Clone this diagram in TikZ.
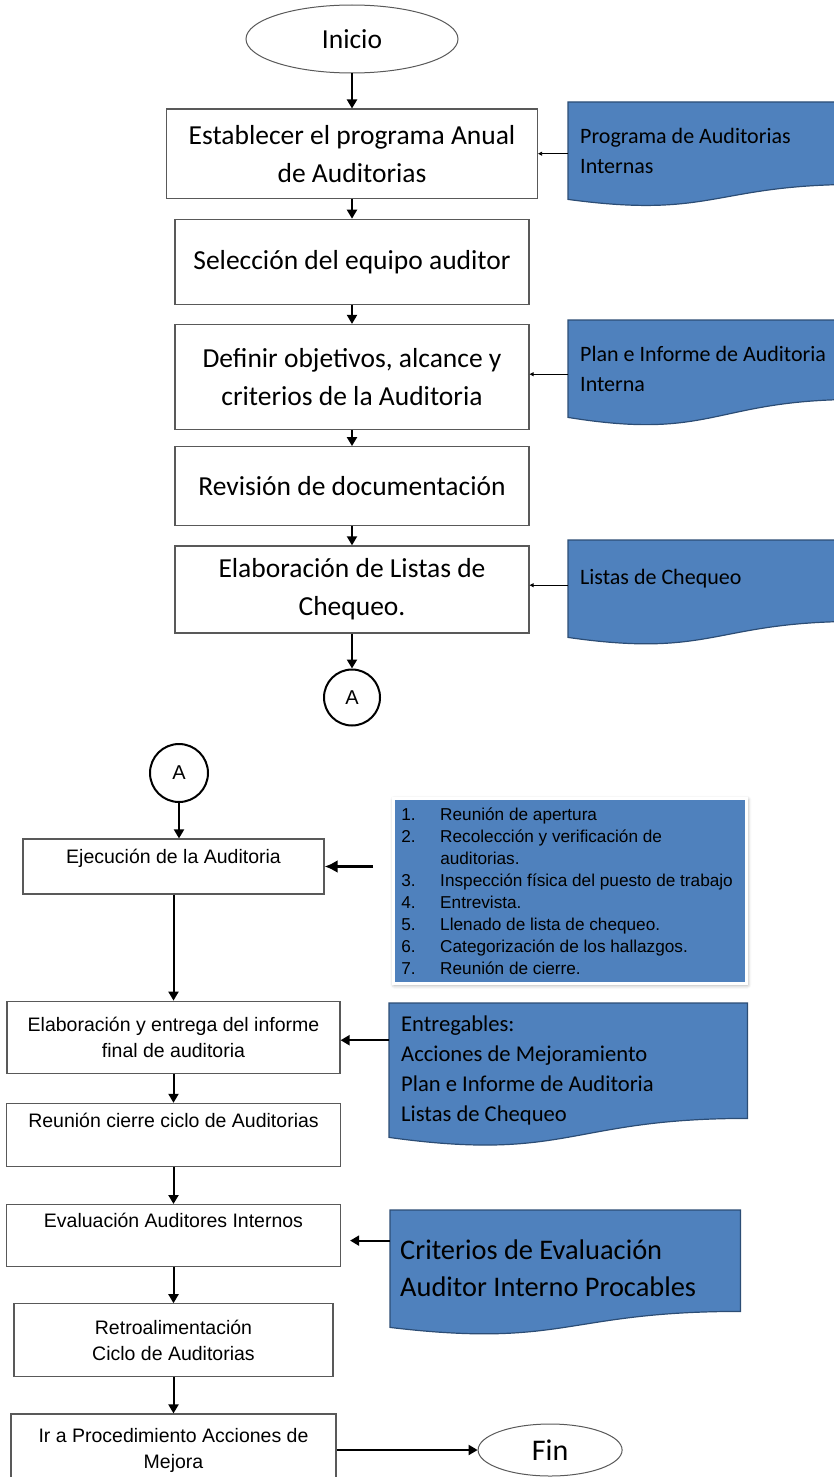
\documentclass[tikz,border=0pt]{standalone}
\usepackage{fontspec}
\setmainfont{Carlito}
\newfontfamily\arialfont{Liberation Sans}
\usetikzlibrary{shapes.geometric, arrows.meta, positioning, backgrounds, calc, shadows.blur}

\definecolor{docblue}{HTML}{4F81BD}
\definecolor{docline}{HTML}{2C4D75}
\definecolor{boxline}{HTML}{595959}

\tikzset{
  stepbox/.style ={draw=boxline, line width=1.2pt, fill=white, align=center,
                   inner sep=0pt, font=\fontsize{27.5}{38}\selectfont},
  subbox/.style  ={draw=boxline, line width=1.2pt, fill=white, align=center,
                   inner sep=0pt, font=\arialfont\fontsize{19.5}{26}\selectfont},
  term/.style    ={ellipse, draw=boxline, line width=1pt, fill=white,
                   inner sep=0pt, font=\fontsize{27.5}{33}\selectfont},
  conn/.style    ={circle, draw=black, line width=2pt, fill=white, inner sep=0pt,
                   font=\arialfont\fontsize{20}{24}\selectfont},
  docnode/.style ={anchor=north west, inner xsep=12pt, inner ysep=0pt,
                   align=flush left, font=\fontsize{22}{30}\selectfont},
  listbox/.style ={anchor=north west, fill=docblue, draw=white, line width=2.5pt,
                   blur shadow={shadow xshift=1pt, shadow yshift=-1.5pt,
                   shadow blur radius=4pt, shadow opacity=45},
                   inner xsep=8pt, inner ysep=0pt, align=flush left,
                   font=\arialfont\fontsize{17.2}{22}\selectfont},
  flow/.style    ={-{Triangle[length=9pt,width=10pt]}, line width=2pt},
  flowb/.style   ={-{Latex[length=13pt,width=13pt]}, line width=3pt},
  feed/.style    ={-{Triangle[length=4pt,width=4pt]}, line width=0.8pt}
}

% blue sheet with a wavy lower edge, drawn behind node #1 (#2 = wave height)
\newcommand{\wavedoc}[2]{%
  \begin{scope}[on background layer]
    \filldraw[fill=docblue, draw=docline, line width=1.2pt]
      (#1.north west) -- (#1.north east) -- ([yshift=#2]#1.south east)
      .. controls ([yshift=#2]#1.south) and ([yshift=-1.31*#2]#1.south)
      .. (#1.south west) -- cycle;
  \end{scope}}

\begin{document}
\begin{tikzpicture}[x=1pt, y=-1pt]
  \useasboundingbox (0,0) rectangle (834,1477);

  % task list of the audit (shadowed box first)
  \node[listbox, minimum width=353pt, minimum height=185pt, text width=337pt] (tareas)
    at (392,797) {%
    \makebox[39pt][l]{1.}Reunión de apertura\\
    \makebox[39pt][l]{2.}Recolección y verificación de\\
    \hspace*{39pt}auditorias.\\
    \makebox[39pt][l]{3.}Inspección física del puesto de trabajo\\
    \makebox[39pt][l]{4.}Entrevista.\\
    \makebox[39pt][l]{5.}Llenado de lista de chequeo.\\
    \makebox[39pt][l]{6.}Categorización de los hallazgos.\\
    \makebox[39pt][l]{7.}Reunión de cierre.};

  % first page of the procedure
  \node[term, minimum width=212pt, minimum height=68pt] (inicio) at (352,39) {Inicio};
  \node[stepbox, below=35pt of inicio, minimum width=371pt, minimum height=89pt] (estab)
    {Establecer el programa Anual\\de Auditorias};
  \node[stepbox, below=20pt of estab, minimum width=354pt, minimum height=85pt] (sel)
    {Selección del equipo auditor};
  \node[stepbox, below=19pt of sel, minimum width=354pt, minimum height=105pt] (defin)
    {Definir objetivos, alcance y\\criterios de la Auditoria};
  \node[stepbox, below=16pt of defin, minimum width=354pt, minimum height=79pt] (rev)
    {Revisión de documentación};
  \node[stepbox, below=19pt of rev, minimum width=354pt, minimum height=87pt] (elab)
    {Elaboración de Listas de\\Chequeo.};
  \node[conn, below=35pt of elab, minimum size=56pt] (conA) {A};

  \node[docnode, minimum width=290pt, minimum height=97pt, text width=266pt] (progdoc)
    at (568,102) {Programa de Auditorias\\Internas};
  \node[docnode, minimum width=290pt, minimum height=97pt, text width=266pt] (plandoc)
    at (568,320) {Plan e Informe de Auditoria\\Interna};
  \node[docnode, minimum width=290pt, minimum height=97pt, text width=266pt,
        text height=16pt, text depth=25pt] (listdoc)
    at (568,540) {Listas de Chequeo};
  \wavedoc{progdoc}{15pt}
  \wavedoc{plandoc}{18pt}
  \wavedoc{listdoc}{16pt}

  \draw[flow] (inicio) -- (estab);
  \draw[flow] (estab) -- (sel);
  \draw[flow] (sel) -- (defin);
  \draw[flow] (defin) -- (rev);
  \draw[flow] (rev) -- (elab);
  \draw[flow] (elab) -- (conA);
  \draw[feed] ([yshift=-3pt]progdoc.west) -- ([yshift=-3pt]progdoc.west -| estab.east);
  \draw[feed] ([yshift=-5.5pt]plandoc.west) -- ([yshift=-5.5pt]plandoc.west -| defin.east);
  \draw[feed] ([yshift=3.5pt]listdoc.west) -- ([yshift=3.5pt]listdoc.west -| elab.east);

  % continuation
  \node[conn, minimum size=58pt] (conB) at (179,773) {A};
  \node[subbox, minimum width=301pt, minimum height=55pt,
        text height=24pt, text depth=31pt] (ejec) at (173.5,866.5)
    {Ejecución de la Auditoria};
  \node[subbox, below=106pt of ejec, minimum width=333pt, minimum height=72pt] (entrega)
    {Elaboración y entrega del informe\\final de auditoria};
  \node[subbox, below=29pt of entrega, minimum width=334pt, minimum height=63pt,
        text height=24pt, text depth=39pt] (reunion)
    {Reunión cierre ciclo de Auditorias};
  \node[subbox, below=37pt of reunion, minimum width=334pt, minimum height=62pt,
        text height=23pt, text depth=39pt] (evalu)
    {Evaluación Auditores Internos};
  \node[subbox, below=36pt of evalu, minimum width=319pt, minimum height=73pt] (retro)
    {Retroalimentación\\Ciclo de Auditorias};
  \node[subbox, below=36pt of retro, minimum width=325pt, minimum height=72pt] (ira)
    {Ir a Procedimiento Acciones de\\Mejora};
  \node[term, right=141pt of ira, minimum width=144pt, minimum height=52pt,
        font=\fontsize{30}{34}\selectfont] (fin) {Fin};

  \node[docnode, minimum width=358pt, minimum height=134pt, text width=334pt,
        font=\fontsize{22.6}{30}\selectfont] (entregdoc) at (389,1003)
    {Entregables:\\Acciones de Mejoramiento\\Plan e Informe de Auditoria\\Listas de Chequeo};
  \node[docnode, inner xsep=10pt, minimum width=350pt, minimum height=117pt,
        text width=330pt, font=\fontsize{28.4}{37}\selectfont] (critdoc) at (390,1210)
    {Criterios de Evaluación\\Auditor Interno Procables};
  \wavedoc{entregdoc}{19pt}
  \wavedoc{critdoc}{16pt}

  \draw[flow] (conB) -- (conB |- ejec.north);
  \draw[flow] (ejec) -- (entrega);
  \draw[flow] (entrega) -- (reunion);
  \draw[flow] (reunion) -- (evalu);
  \draw[flow] (evalu) -- (retro);
  \draw[flow] (retro) -- (ira);
  \draw[flow] (ira) -- (fin);
  \draw[flowb] ([xshift=-19pt]tareas.west |- ejec.east) -- (ejec.east);
  \draw[flow] ([yshift=-3pt]entregdoc.west |- entrega.east) -- ([yshift=-3pt]entrega.east);
  \draw[flow] ([yshift=-5pt]critdoc.west |- evalu.east) -- ([xshift=9pt,yshift=-5pt]evalu.east);
\end{tikzpicture}
\end{document}
